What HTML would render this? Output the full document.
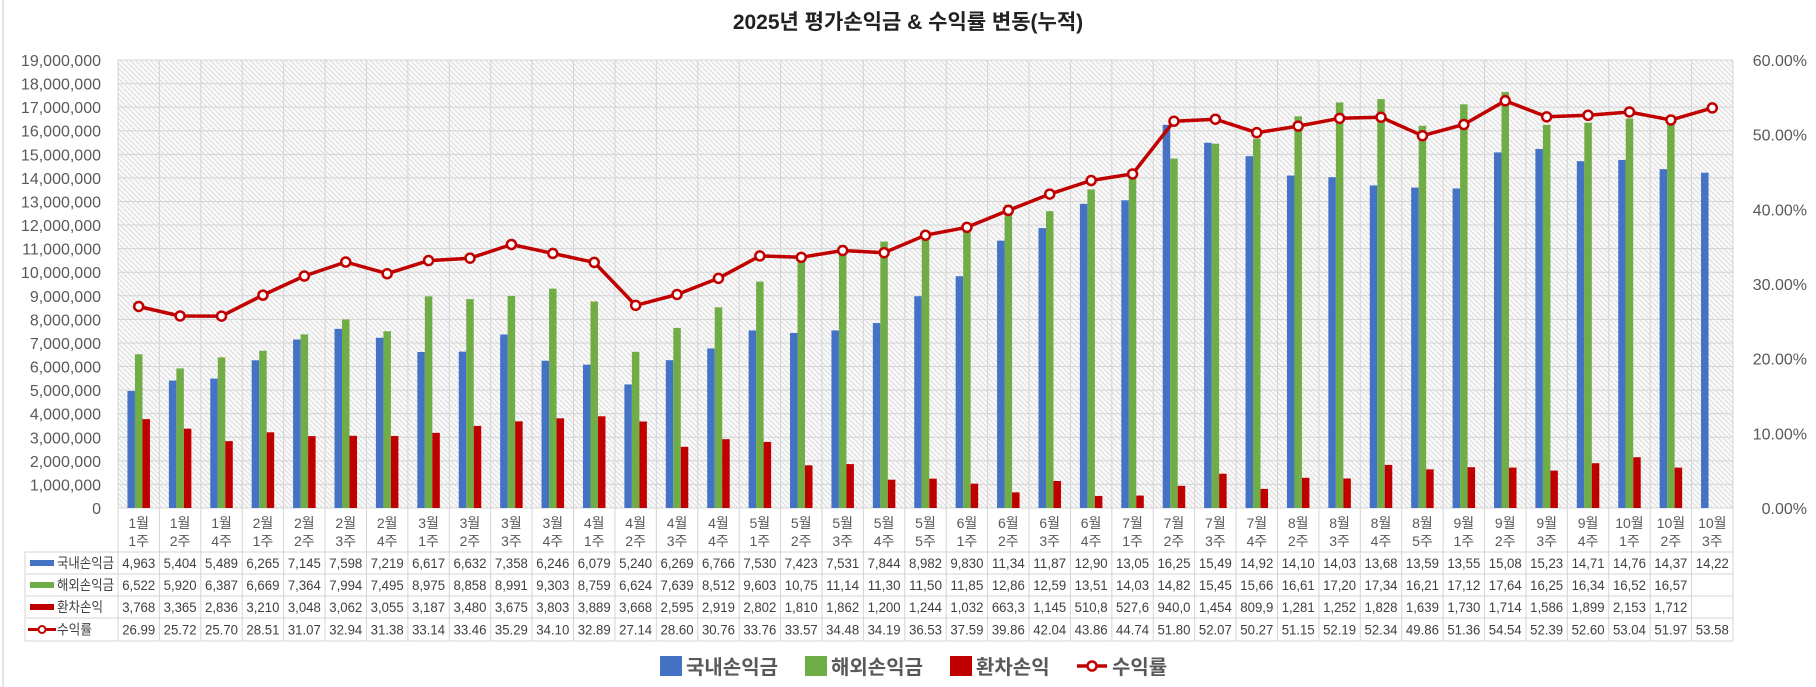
<!DOCTYPE html>
<html><head><meta charset="utf-8">
<style>
html,body{margin:0;padding:0;background:#fff;}
svg{display:block;font-family:"Liberation Sans","Noto Sans CJK KR",sans-serif;}
</style></head>
<body>
<svg id="chart" width="1816" height="687" viewBox="0 0 1816 687" xmlns="http://www.w3.org/2000/svg">
<defs>
<pattern id="hatch" width="5" height="5" patternUnits="userSpaceOnUse">
<rect width="5" height="5" fill="#fafafa"/>
<path d="M-1,-1 L6,6 M-1,4 L1,6 M4,-1 L6,1" stroke="#dcdcdc" stroke-width="1"/>
</pattern>
</defs>
<line x1="3" y1="0" x2="3" y2="687" stroke="#c8c8c8" stroke-width="1"/>
<text x="908" y="29" text-anchor="middle" font-size="21" font-weight="600" fill="#222">2025년 평가손익금 &amp; 수익률 변동(누적)</text>
<rect x="118" y="60" width="1615" height="448" fill="url(#hatch)"/>
<g id="grid"></g>
<g id="axes"></g>
<g id="bars"></g>
<g id="line"></g>
<g id="table"></g>
<g id="legend"></g>
</svg>
<script>
const categories = ["1월|1주","1월|2주","1월|4주","2월|1주","2월|2주","2월|3주","2월|4주","3월|1주","3월|2주","3월|3주","3월|4주","4월|1주","4월|2주","4월|3주","4월|4주","5월|1주","5월|2주","5월|3주","5월|4주","5월|5주","6월|1주","6월|2주","6월|3주","6월|4주","7월|1주","7월|2주","7월|3주","7월|4주","8월|2주","8월|3주","8월|4주","8월|5주","9월|1주","9월|2주","9월|3주","9월|4주","10월|1주","10월|2주","10월|3주"];
const domestic = [4963000,5404000,5489000,6265000,7145000,7598000,7219000,6617000,6632000,7358000,6246000,6079000,5240000,6269000,6766000,7530000,7423000,7531000,7844000,8982000,9830000,11340000,11870000,12900000,13050000,16250000,15490000,14920000,14100000,14030000,13680000,13590000,13550000,15080000,15230000,14710000,14760000,14370000,14220000];
const overseas = [6522000,5920000,6387000,6669000,7364000,7994000,7495000,8975000,8858000,8991000,9303000,8759000,6624000,7639000,8512000,9603000,10750000,11140000,11300000,11500000,11850000,12860000,12590000,13510000,14030000,14820000,15450000,15660000,16610000,17200000,17340000,16210000,17120000,17640000,16250000,16340000,16520000,16570000,null];
const fx = [3768000,3365000,2836000,3210000,3048000,3062000,3055000,3187000,3480000,3675000,3803000,3889000,3668000,2595000,2919000,2802000,1810000,1862000,1200000,1244000,1032000,663300,1145000,510800,527600,940000,1454000,809900,1281000,1252000,1828000,1639000,1730000,1714000,1586000,1899000,2153000,1712000,null];
const rate = [26.99,25.72,25.70,28.51,31.07,32.94,31.38,33.14,33.46,35.29,34.10,32.89,27.14,28.60,30.76,33.76,33.57,34.48,34.19,36.53,37.59,39.86,42.04,43.86,44.74,51.80,52.07,50.27,51.15,52.19,52.34,49.86,51.36,54.54,52.39,52.60,53.04,51.97,53.58];
const leftTicks = [0,1000000,2000000,3000000,4000000,5000000,6000000,7000000,8000000,9000000,10000000,11000000,12000000,13000000,14000000,15000000,16000000,17000000,18000000,19000000];
const rightTicks = [0,10,20,30,40,50,60];

const NS = "http://www.w3.org/2000/svg";
const PL=118, PR=1733, PT=60, PB=508, LMAX=19000000, RMAX=60;
const cw=(PR-PL)/categories.length;
function yL(v){return PB-v/LMAX*(PB-PT);}
function yR(v){return PB-v/RMAX*(PB-PT);}
function xC(i){return PL+cw*(i+0.5);}
function mk(tag,attrs,parent,text){const e=document.createElementNS(NS,tag);for(const k in attrs)e.setAttribute(k,attrs[k]);if(text!==undefined)e.textContent=text;parent.appendChild(e);return e;}
const G=id=>document.getElementById(id);

const grid=G('grid');
leftTicks.forEach(t=>{const l=mk('line',{x1:PL,x2:PR,y1:yL(t),y2:yL(t),stroke:'#d4d4d4','stroke-width':1},grid);

});
for(let i=0;i<=categories.length;i++){const x=PL+cw*i;const l=mk('line',{x1:x,x2:x,y1:PT,y2:641,stroke:'#d4d4d4','stroke-width':1},grid);

}

const axes=G('axes');
leftTicks.forEach(t=>{const e=mk('text',{x:101,y:yL(t)+6,'text-anchor':'end','font-size':16,fill:'#595959'},axes,t.toLocaleString('en-US'));

});
rightTicks.forEach(t=>{const e=mk('text',{x:1807,y:yR(t)+6,'text-anchor':'end','font-size':16,fill:'#595959'},axes,t.toFixed(2)+'%');

});
categories.forEach((c,i)=>{const p=c.split('|');
const a=mk('text',{x:xC(i),y:528,'text-anchor':'middle','font-size':14,fill:'#595959'},axes,p[0]);


const b=mk('text',{x:xC(i),y:546,'text-anchor':'middle','font-size':14,fill:'#595959'},axes,p[1]);

});

const bars=G('bars');const bw=7.5;
const series=[[domestic,'#4472c4',-1.5,'bar-domestic'],[overseas,'#70ad47',-0.5,'bar-overseas'],[fx,'#c00000',0.5,'bar-fx']];
series.forEach(s=>{s[0].forEach((v,i)=>{if(v==null)return;const r=mk('rect',{x:xC(i)+s[2]*bw,y:yL(v),width:bw,height:PB-yL(v),fill:s[1]},bars);

});});

const line=G('line');
const pts=rate.map((v,i)=>xC(i).toFixed(1)+','+yR(v).toFixed(1)).join(' ');
const pl=mk('polyline',{points:pts,fill:'none',stroke:'#c00000','stroke-width':3.5,'stroke-linejoin':'round'},line);


rate.forEach((v,i)=>{const c=mk('circle',{cx:xC(i),cy:yR(v),r:4.5,fill:'#fff',stroke:'#c00000','stroke-width':2.5},line);

});

const tb=G('table');
const rowY=[552,574,596,618,641];
rowY.forEach(y=>{const l=mk('line',{x1:25,x2:PR,y1:y,y2:y,stroke:'#d4d4d4','stroke-width':1},tb);

});
const ll=mk('line',{x1:25,x2:25,y1:552,y2:641,stroke:'#d4d4d4','stroke-width':1},tb);


const rowNames=['국내손익금','해외손익금','환차손익','수익률'];
const rowColors=['#4472c4','#70ad47','#c00000','#c00000'];
const rowLens=[57,57,46,35];
rowNames.forEach((n,r)=>{const cy=(rowY[r]+rowY[r+1])/2;
if(r<3){const k=mk('rect',{x:30,y:cy-3,width:24,height:6,fill:rowColors[r]},tb);

}
else{const k=mk('line',{x1:28,x2:56,y1:cy,y2:cy,stroke:'#c00000','stroke-width':3},tb);


const c=mk('circle',{cx:42,cy:cy,r:3.5,fill:'#fff',stroke:'#c00000','stroke-width':2},tb);

}
const t=mk('text',{x:57,y:cy+5,'font-size':14,fill:'#404040',textLength:rowLens[r],lengthAdjust:'spacingAndGlyphs'},tb,n);

});
const rows=[domestic,overseas,fx];
function fmt(v){return v==null?'':v.toLocaleString('en-US').slice(0,5);}
rows.forEach((arr,r)=>{const cy=(rowY[r]+rowY[r+1])/2;arr.forEach((v,i)=>{const s=fmt(v);if(!s)return;const t=mk('text',{x:xC(i),y:cy+5,'text-anchor':'middle','font-size':14,fill:'#404040',textLength:33,lengthAdjust:'spacingAndGlyphs'},tb,s);

});});
rate.forEach((v,i)=>{const cy=(rowY[3]+rowY[4])/2;const t=mk('text',{x:xC(i),y:cy+5,'text-anchor':'middle','font-size':14,fill:'#404040',textLength:33,lengthAdjust:'spacingAndGlyphs'},tb,v.toFixed(2));

});

const lg=G('legend');
const items=[['국내손익금','#4472c4',660,'rect'],['해외손익금','#70ad47',805,'rect'],['환차손익','#c00000',950,'rect'],['수익률','#c00000',1077,'line']];
items.forEach(it=>{const g=mk('g',{},lg);


if(it[3]==='rect'){mk('rect',{x:it[2],y:656,width:22,height:20,fill:it[1]},g);}
else{mk('line',{x1:it[2],x2:it[2]+30,y1:666,y2:666,stroke:'#c00000','stroke-width':3.5},g);mk('circle',{cx:it[2]+15,cy:666,r:4.5,fill:'#fff',stroke:'#c00000','stroke-width':2.5},g);}
mk('text',{x:it[2]+(it[3]==='rect'?26:35),y:674,'font-size':20,'font-weight':'bold',fill:'#595959'},g,it[0]);});
</script>
</body></html>
